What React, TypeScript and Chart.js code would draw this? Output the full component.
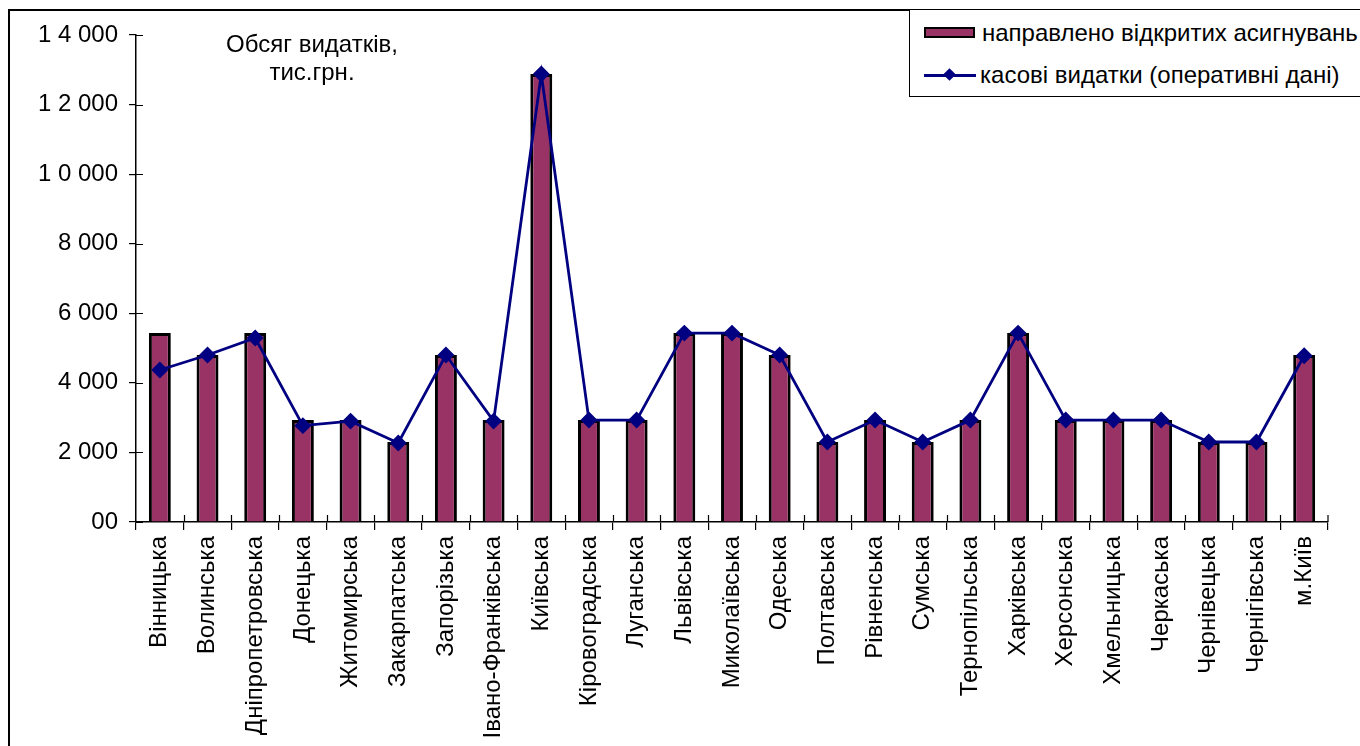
import React, { useEffect, useRef } from "react";
import { Chart, registerables } from "chart.js";

Chart.register(...registerables);

const categories = [
  "Вінницька", "Волинська", "Дніпропетровська", "Донецька", "Житомирська",
  "Закарпатська", "Запорізька", "Івано-Франківська", "Київська", "Кіровоградська",
  "Луганська", "Львівська", "Миколаївська", "Одеська", "Полтавська",
  "Рівненська", "Сумська", "Тернопільська", "Харківська", "Херсонська",
  "Хмельницька", "Черкаська", "Чернівецька", "Чернігівська", "м.Київ",
];

const allocated = [
  5430, 4800, 5430, 2930, 2930,
  2300, 4800, 2930, 12880, 2930,
  2930, 5430, 5430, 4800, 2300,
  2930, 2300, 2930, 5430, 2930,
  2930, 2930, 2300, 2300, 4800,
];

const cashSpending = [
  4370, 4800, 5290, 2770, 2900,
  2270, 4800, 2900, 12880, 2930,
  2930, 5430, 5430, 4800, 2300,
  2930, 2300, 2930, 5430, 2930,
  2930, 2930, 2300, 2300, 4780,
];

const yTickValues = [0, 2000, 4000, 6000, 8000, 10000, 12000, 14000];
const yTickLabels = ["00", "2 000", "4 000", "6 000", "8 000", "1 0 000", "1 2 000", "1 4 000"];

const seriesNames = ["направлено відкритих асигнувань", "касові видатки (оперативні дані)"];
const titleLines = ["Обсяг видатків,", "тис.грн."];

const FONT = "'Liberation Sans', Arial, sans-serif";
const FONT_SIZE = 24;
const BAR_COLOR = "#993366";
const LINE_COLOR = "#000080";

const innerTicks = {
  id: "innerTicks",
  afterDraw(chart: any) {
    const { ctx, chartArea, scales } = chart;
    ctx.save();
    ctx.strokeStyle = "#000";
    ctx.lineWidth = 1.2;
    ctx.beginPath();
    const ys = scales.y;
    ys.ticks.forEach((t: any) => {
      const py = Math.round(ys.getPixelForValue(t.value)) + 0.5;
      ctx.moveTo(chartArea.left, py);
      ctx.lineTo(chartArea.left + 7, py);
    });
    const xs = scales.x;
    const n = categories.length;
    for (let i = 1; i <= n; i++) {
      const px = Math.round((xs.getPixelForValue(i - 1) + xs.getPixelForValue(Math.min(i, n - 1)) ) / 2) + 0.5;
      const edge = i === n ? chartArea.right : px;
      ctx.moveTo(edge, chartArea.bottom);
      ctx.lineTo(edge, chartArea.bottom - 7);
    }
    ctx.stroke();
    ctx.restore();
  },
};

export default function App() {
  const canvasRef = useRef<HTMLCanvasElement | null>(null);

  useEffect(() => {
    document.body.style.margin = "0";
    const ctx = canvasRef.current;
    if (!ctx) return;
    const chart = new Chart(ctx, {
      type: "bar",
      data: {
        labels: categories,
        datasets: [
          {
            type: "line",
            label: seriesNames[1],
            data: cashSpending,
            borderColor: LINE_COLOR,
            backgroundColor: LINE_COLOR,
            borderWidth: 2.8,
            pointStyle: "rectRot",
            pointRadius: 6.5,
            pointBackgroundColor: LINE_COLOR,
            pointBorderColor: LINE_COLOR,
            tension: 0,
            order: 0,
          } as any,
          {
            type: "bar",
            label: seriesNames[0],
            data: allocated,
            backgroundColor: BAR_COLOR,
            borderColor: "#000000",
            borderWidth: 3,
            barPercentage: 0.46,
            categoryPercentage: 1,
            order: 1,
          } as any,
        ],
      },
      options: {
        responsive: false,
        animation: false,
        layout: { padding: { top: 35, right: 32, left: 0, bottom: 0 } },
        plugins: {
          legend: { display: false },
          tooltip: { enabled: false },
          title: { display: false },
        },
        scales: {
          x: {
            offset: true,
            grid: {
              display: true,
              drawOnChartArea: false,
              drawTicks: true,
              tickLength: 8,
              color: "#000",
              lineWidth: 1.2,
              offset: true,
            },
            border: { display: true, color: "#000", width: 1.5 },
            ticks: {
              color: "#000",
              font: { family: FONT, size: FONT_SIZE },
              maxRotation: 90,
              minRotation: 90,
              autoSkip: false,
              padding: 6,
            },
            afterFit: (s: any) => {
              s.height = 224;
            },
          },
          y: {
            min: 0,
            max: 14000,
            afterBuildTicks: (s: any) => {
              s.ticks = yTickValues.map((v) => ({ value: v }));
            },
            grid: {
              display: true,
              drawOnChartArea: false,
              drawTicks: true,
              tickLength: 7,
              color: "#000",
              lineWidth: 1.2,
            },
            border: { display: true, color: "#000", width: 1.5 },
            ticks: {
              color: "#000",
              font: { family: FONT, size: FONT_SIZE },
              padding: 11,
              callback: (v: any) => {
                const i = yTickValues.indexOf(Number(v));
                return i >= 0 ? yTickLabels[i] : "";
              },
            },
            afterFit: (s: any) => {
              s.width = 136;
            },
          },
        },
      },
      plugins: [innerTicks],
    });
    return () => chart.destroy();
  }, []);

  return (
    <div style={{ position: "fixed", left: 0, top: 0, width: 1360, height: 746, background: "#fff", overflow: "hidden" }}>
      <div
        style={{
          position: "absolute",
          left: 8,
          top: 9,
          width: 1500,
          height: 900,
          borderLeft: "2px solid #000",
          borderTop: "2px solid #000",
        }}
      />
      <canvas ref={canvasRef} width={1360} height={746} style={{ position: "absolute", left: 0, top: 0, width: 1360, height: 746 }} />
      <div
        style={{
          position: "absolute",
          left: 212,
          top: 30,
          width: 200,
          textAlign: "center",
          fontFamily: FONT,
          fontSize: FONT_SIZE,
          lineHeight: "28px",
          color: "#000",
        }}
      >
        {titleLines.map((t) => (
          <div key={t}>{t}</div>
        ))}
      </div>
      <div
        style={{
          position: "absolute",
          left: 909,
          top: 9,
          width: 500,
          height: 86,
          border: "1.5px solid #000",
          background: "#fff",
          fontFamily: FONT,
          fontSize: FONT_SIZE,
          color: "#000",
        }}
      >
        <div style={{ position: "absolute", left: 14, top: 17, width: 47, height: 7, background: BAR_COLOR, border: "2.5px solid #000" }} />
        <div style={{ position: "absolute", left: 72, top: 9, whiteSpace: "nowrap", lineHeight: "28px" }}>{seriesNames[0]}</div>
        <div style={{ position: "absolute", left: 14, top: 64, width: 52, height: 2.5, background: LINE_COLOR }} />
        <div
          style={{
            position: "absolute",
            left: 35,
            top: 60,
            width: 9,
            height: 9,
            background: LINE_COLOR,
            transform: "rotate(45deg)",
          }}
        />
        <div style={{ position: "absolute", left: 70, top: 51, whiteSpace: "nowrap", lineHeight: "28px" }}>{seriesNames[1]}</div>
      </div>
    </div>
  );
}
